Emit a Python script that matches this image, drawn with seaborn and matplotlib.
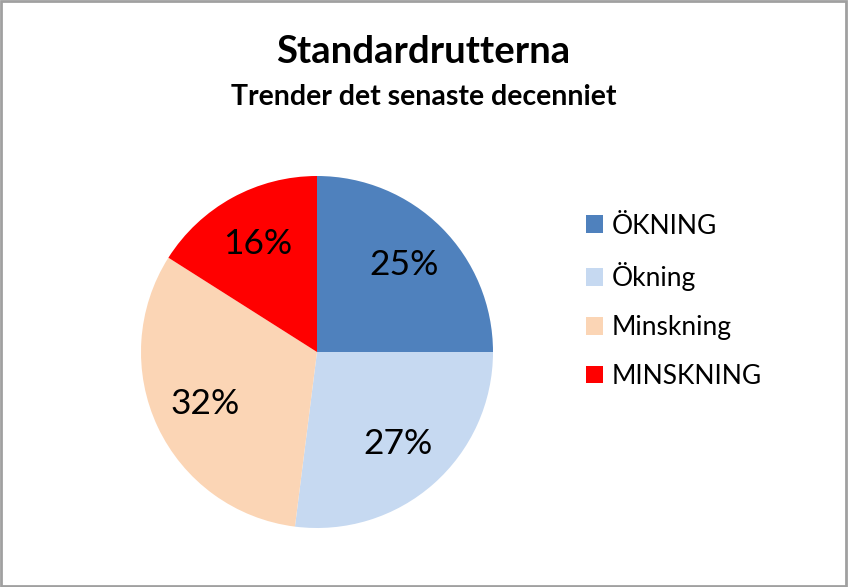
import matplotlib
matplotlib.use("Agg")
import matplotlib.pyplot as plt
import seaborn as sns
from matplotlib.patches import Rectangle

# Data
categories = ["ÖKNING", "Ökning", "Minskning", "MINSKNING"]
shares = [25, 27, 32, 16]
colors = ["#4F81BD", "#C6D9F1", "#FBD5B5", "#FF0000"]

sns.set_theme(style="white")
plt.rcParams["font.family"] = ["Lato", "DejaVu Sans"]
plt.rcParams["text.color"] = "black"

W, H = 848, 587
fig = plt.figure(figsize=(W / 100, H / 100), dpi=100)
fig.patch.set_facecolor("white")

# pie centre ~ (317, 352) px, radius ~176 px
cx, cy, r = 317, 352, 176
ax = fig.add_axes([(cx - r) / W, (H - cy - r) / H, 2 * r / W, 2 * r / H])
wedges, texts, autotexts = ax.pie(
    shares,
    colors=sns.color_palette(colors),
    startangle=90,
    counterclock=False,
    autopct="%.0f%%",
    pctdistance=0.7,
    textprops={"fontsize": 25.5, "color": "black"},
    wedgeprops={"linewidth": 0},
)
ax.set_xlim(-1, 1)
ax.set_ylim(-1, 1)
ax.set_aspect("equal")
ax.axis("off")

fig.text(423 / W, 1 - 52 / H, "Standardrutterna", ha="center", va="center",
         fontsize=27.5, fontweight="bold", color="black")
fig.text(424 / W, 1 - 97 / H, "Trender det senaste decenniet", ha="center",
         va="center", fontsize=20.5, fontweight="bold", color="black")

leg = fig.legend(wedges, categories, loc="upper left",
                 bbox_to_anchor=(575 / W, 1 - 203 / H), frameon=False,
                 fontsize=19, handlelength=0.65, handleheight=0.65,
                 handletextpad=0.35, labelspacing=0.9, borderaxespad=0,
                 labelcolor="black")

# outer frame
fig.patches.append(Rectangle((0.001, 0.002), 0.997, 0.996, transform=fig.transFigure,
                             fill=False, edgecolor="#A0A0A0", linewidth=2))

fig.savefig("out.png", dpi=100)
